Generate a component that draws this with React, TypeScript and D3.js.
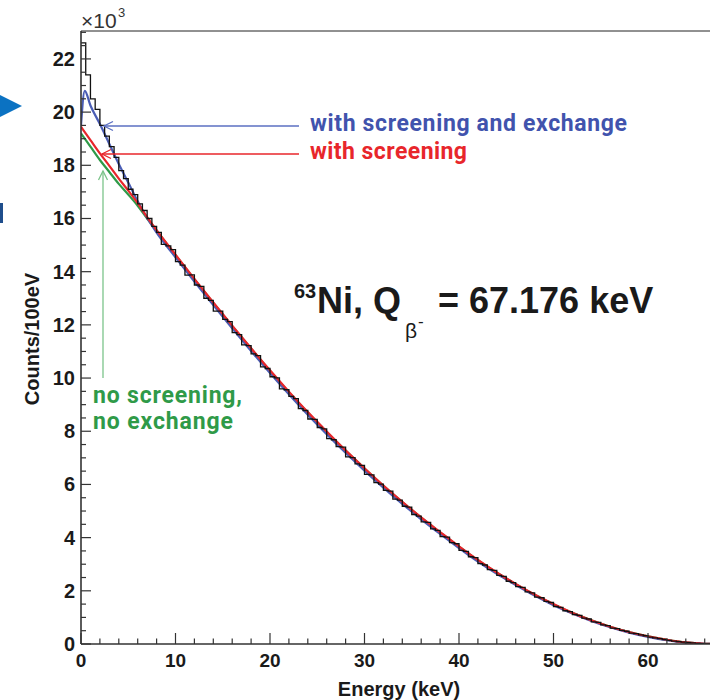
import React from "react";
import * as d3 from "d3";

// Smooth model curves (keV, counts x10^3 per 100 eV)
const E_SMOOTH = [0, 0.4, 1, 2, 3, 4, 5, 6, 7, 8, 10, 12, 14, 16, 18, 20, 22, 24, 26, 28, 30, 32, 34, 36, 38, 40, 42, 44, 46, 48, 50, 52, 54, 56, 58, 60, 62, 64, 66, 67.18];
const BLUE = [19.5, 20.8, 20.25, 19.55, 18.8, 18.05, 17.35, 16.65, 16.02, 15.47, 14.54, 13.63, 12.74, 11.87, 11.02, 10.19, 9.39, 8.62, 7.89, 7.19, 6.52, 5.88, 5.27, 4.69, 4.14, 3.61, 3.10, 2.64, 2.22, 1.82, 1.46, 1.15, 0.87, 0.63, 0.43, 0.27, 0.14, 0.05, 0.01, 0];
const RED = [19.45, 19.25, 18.95, 18.45, 17.98, 17.5, 17.05, 16.58, 16.05, 15.56, 14.64, 13.73, 12.84, 11.97, 11.12, 10.29, 9.49, 8.72, 7.99, 7.28, 6.61, 5.96, 5.35, 4.76, 4.21, 3.67, 3.16, 2.69, 2.26, 1.86, 1.50, 1.17, 0.89, 0.65, 0.45, 0.29, 0.16, 0.06, 0.01, 0];
const GREEN = [19.2, 19.0, 18.7, 18.2, 17.75, 17.3, 16.9, 16.48, 16.0, 15.54, 14.62, 13.71, 12.82, 11.95, 11.10, 10.27, 9.47, 8.70, 7.97, 7.27, 6.60, 5.95, 5.34, 4.75, 4.20, 3.66, 3.15, 2.68, 2.25, 1.85, 1.49, 1.17, 0.89, 0.65, 0.45, 0.29, 0.16, 0.06, 0.01, 0];

// Measured histogram, 0.5 keV bins starting at 0 keV
const BIN_WIDTH = 0.5;
const COUNTS = [
  22.6, 21.4, 20.5, 20.1, 19.5, 19.1, 18.7, 18.3, 17.8, 17.5, 17.1, 16.9, 16.55, 16.3, 16.0, 15.7,
  15.48, 15.03, 14.97, 14.83, 14.38, 14.25, 13.87, 13.88, 13.5, 13.45, 13.0, 12.92, 12.52, 12.52, 12.21, 12.12,
  11.71, 11.63, 11.25, 11.22, 10.91, 10.84, 10.42, 10.36, 10.05, 10.01, 9.59, 9.56, 9.31, 9.23, 8.85, 8.78,
  8.46, 8.45, 8.14, 8.09, 7.72, 7.68, 7.42, 7.4, 7.04, 7.01, 6.77, 6.72, 6.38, 6.36, 6.07, 6.01,
  5.78, 5.75, 5.45, 5.41, 5.18, 5.15, 4.87, 4.81, 4.59, 4.57, 4.33, 4.27, 4.04, 4.02, 3.81, 3.77,
  3.52, 3.48, 3.28, 3.25, 3.02, 2.97, 2.8, 2.77, 2.58, 2.54, 2.36, 2.31, 2.16, 2.13, 1.96, 1.92,
  1.76, 1.74, 1.6, 1.56, 1.41, 1.38, 1.25, 1.22, 1.11, 1.08, 0.97, 0.94, 0.83, 0.81, 0.72, 0.69,
  0.6, 0.58, 0.51, 0.48, 0.41, 0.39, 0.34, 0.31, 0.26, 0.23, 0.2, 0.17, 0.14, 0.11, 0.09, 0.07,
  0.05, 0.04, 0.025, 0.015, 0.008, 0.003
];

const X_MAJOR = [0, 10, 20, 30, 40, 50, 60];
const Y_MAJOR = [0, 2, 4, 6, 8, 10, 12, 14, 16, 18, 20, 22];

const FONT = "'Liberation Sans', Arial, Helvetica, sans-serif";
const AFONT = "Roboto, 'Noto Sans', sans-serif";

export default function App() {
  const W = 710, H = 700;
  const x = d3.scaleLinear().domain([0, 70]).range([81, 742.5]);
  const y = d3.scaleLinear().domain([0, 23.05]).range([644, 31]);

  const smooth = (vals: number[]) =>
    d3.line<number>()
      .x((_, i) => x(E_SMOOTH[i]))
      .y((d) => y(d))
      .curve(d3.curveMonotoneX)(vals) || "";

  const histPts: [number, number][] = COUNTS.map((c, i) => [i * BIN_WIDTH, c]);
  histPts.push([COUNTS.length * BIN_WIDTH, 0]);
  const histPath = d3.line<[number, number]>()
    .x((d) => x(d[0]))
    .y((d) => y(d[1]))
    .curve(d3.curveStepAfter)(histPts) || "";

  const xMinor = d3.range(0, 71, 2);
  const yMinor = d3.range(0, 23.01, 0.5);

  const blueC = "#4a5db5";
  const redC = "#e8262b";
  const greenC = "#2f9a48";

  return (
    <svg width={W} height={H} style={{ position: "absolute", left: 0, top: 0, background: "#fff" }}>
      <defs>
        <clipPath id="plot">
          <rect x={81} y={31} width={662} height={613} />
        </clipPath>
      </defs>
      <rect width={W} height={H} fill="#fff" />

      {/* side decorations */}
      <polygon points="0,95 22,106 0,117" fill="#0b72c2" />
      <rect x={0} y={203} width={3} height={20} fill="#1f4e8c" />

      {/* curves */}
      <g clipPath="url(#plot)" fill="none">
        <path d={smooth(GREEN)} stroke={greenC} strokeWidth={2.2} />
        <path d={smooth(BLUE)} stroke={blueC} strokeWidth={2.2} />
        <path d={smooth(RED)} stroke={redC} strokeWidth={2.2} />
        <path d={histPath} stroke="#111" strokeWidth={1.3} />
      </g>

      {/* frame & axes */}
      <line x1={81} y1={31} x2={742} y2={31} stroke="#222" strokeWidth={1} />
      <line x1={81} y1={31} x2={81} y2={644} stroke="#333" strokeWidth={1.6} />
      <line x1={81} y1={644} x2={742} y2={644} stroke="#333" strokeWidth={1.6} />

      {yMinor.map((v) => {
        const major = Math.abs(v % 2) < 1e-6;
        return (
          <line key={"ym" + v} x1={81} x2={81 + (major ? 10 : 5)} y1={y(v)} y2={y(v)} stroke="#333" strokeWidth={1.2} />
        );
      })}
      {xMinor.map((v) => {
        const major = v % 10 === 0;
        return (
          <line key={"xm" + v} x1={x(v)} x2={x(v)} y1={644} y2={644 - (major ? 11 : 5.5)} stroke="#333" strokeWidth={1.2} />
        );
      })}

      {Y_MAJOR.map((v) => (
        <text key={"yl" + v} x={75} y={y(v) + 7} textAnchor="end" fontFamily={FONT} fontWeight="bold" fontSize={20} fill="#1a1a1a">
          {v}
        </text>
      ))}
      {X_MAJOR.map((v) => (
        <text key={"xl" + v} x={x(v)} y={667} textAnchor="middle" fontFamily={FONT} fontWeight="bold" fontSize={19} fill="#1a1a1a">
          {v}
        </text>
      ))}

      <text x={81} y={28} fontFamily={FONT} fontSize={21} fill="#333">
        ×10
      </text>
      <text x={118} y={17} fontFamily={FONT} fontSize={13} fill="#333">
        3
      </text>

      <text x={399} y={696} textAnchor="middle" fontFamily={FONT} fontWeight="bold" fontSize={20} fill="#1a1a1a">
        Energy (keV)
      </text>
      <text transform="translate(39,339) rotate(-90)" textAnchor="middle" fontFamily={FONT} fontWeight="bold" fontSize={20} fill="#1a1a1a">
        Counts/100eV
      </text>

      {/* annotations */}
      <g fill="none" strokeWidth={1.3}>
        <line x1={104} y1={126} x2={299} y2={126} stroke="#5b6fc2" />
        <path d="M113,121.5 L104,126 L113,130.5" stroke="#5b6fc2" />
        <line x1={102} y1={154} x2={299} y2={154} stroke={redC} />
        <path d="M111,149.5 L102,154 L111,158.5" stroke={redC} />
        <line x1={103} y1={171} x2={103} y2={378} stroke="#7cc48a" />
        <path d="M98.5,180 L103,171 L107.5,180" stroke="#7cc48a" />
      </g>
      <text x={310} y={131} fontFamily={AFONT} fontWeight="bold" fontSize={23} fill="#4153ad" textLength={317} lengthAdjust="spacing">
        with screening and exchange
      </text>
      <text x={310} y={159} fontFamily={AFONT} fontWeight="bold" fontSize={23} fill={redC} textLength={157} lengthAdjust="spacing">
        with screening
      </text>
      <text x={93} y={403} fontFamily={AFONT} fontWeight="bold" fontSize={23} fill={greenC} textLength={149} lengthAdjust="spacing">
        no screening,
      </text>
      <text x={93} y={429} fontFamily={AFONT} fontWeight="bold" fontSize={23} fill={greenC} textLength={140} lengthAdjust="spacing">
        no exchange
      </text>

      <g fontFamily={FONT} fill="#1a1a1a">
        <text x={294} y={298} fontSize={20} fontWeight="bold">63</text>
        <text x={317} y={313} fontSize={36} fontWeight="bold">Ni, Q</text>
        <text x={405} y={338} fontSize={21}>β</text>
        <text x={418} y={327} fontSize={17}>-</text>
        <text x={438} y={313} fontSize={36} fontWeight="bold">= 67.176 keV</text>
      </g>
    </svg>
  );
}
